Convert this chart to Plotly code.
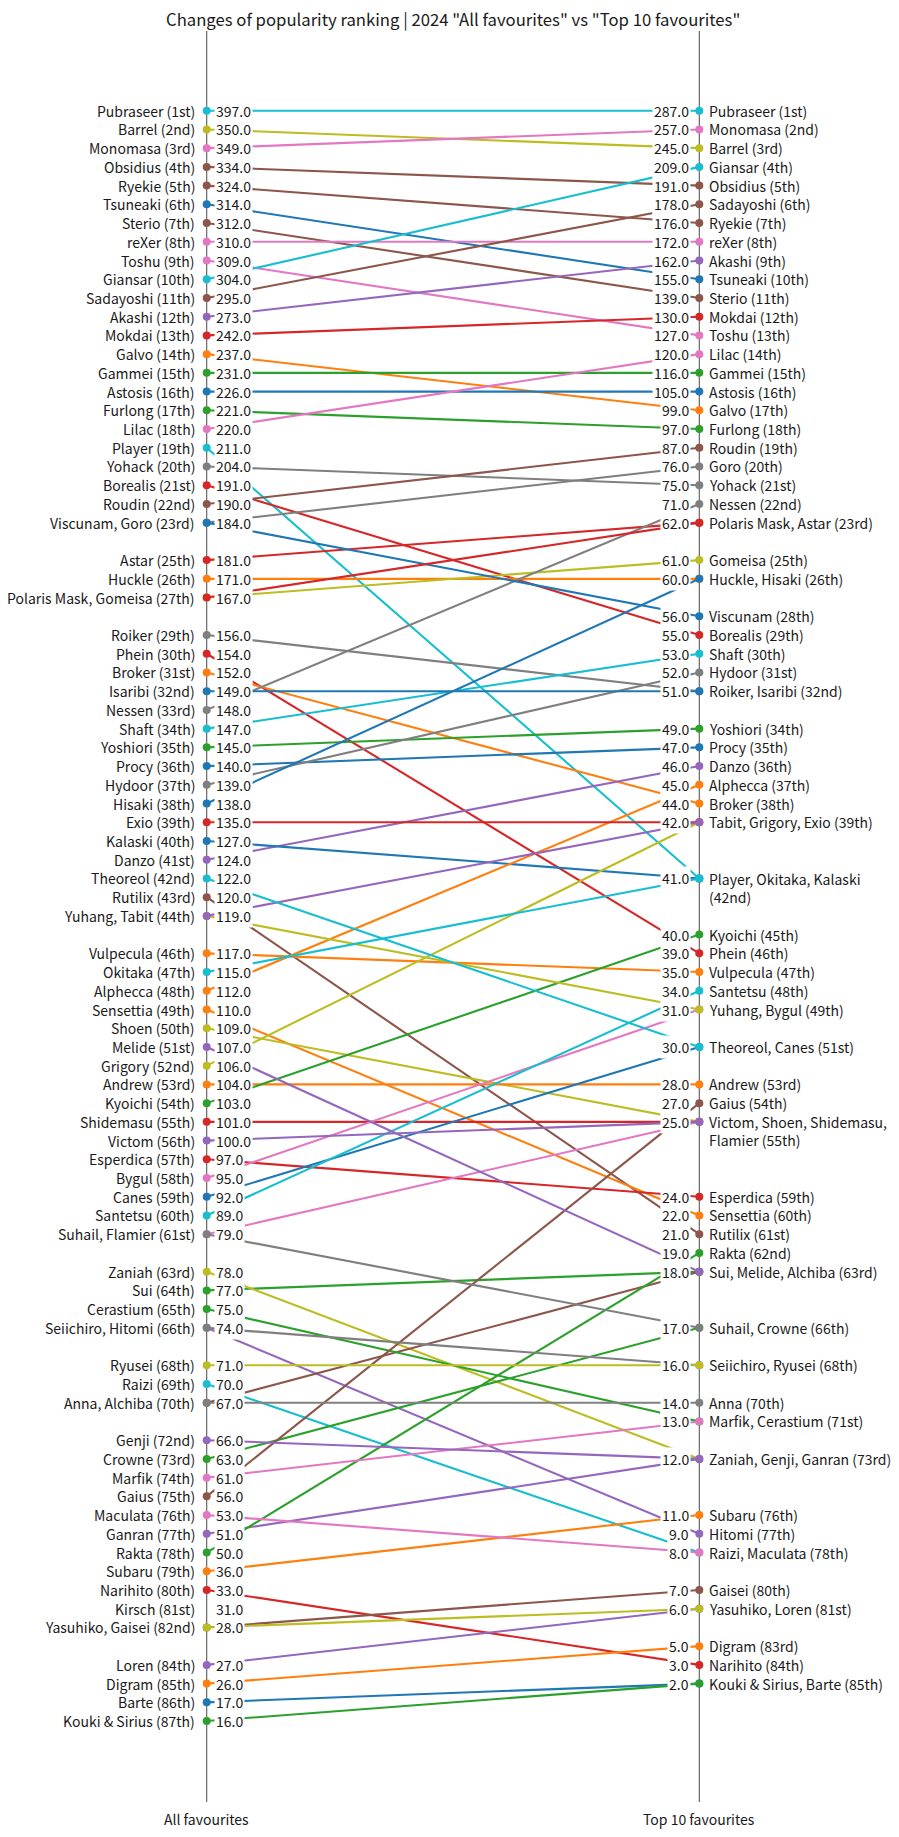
import textwrap
import plotly.graph_objects as go

# ---------------- data ----------------
names = [
    "Pubraseer", "Barrel", "Monomasa", "Obsidius", "Ryekie", "Tsuneaki", "Sterio", "reXer",
    "Toshu", "Giansar", "Sadayoshi", "Akashi", "Mokdai", "Galvo", "Gammei", "Astosis",
    "Furlong", "Lilac", "Player", "Yohack", "Borealis", "Roudin", "Viscunam", "Goro",
    "Huckle", "Polaris Mask", "Astar", "Gomeisa", "Roiker", "Phein", "Broker", "Isaribi",
    "Nessen", "Shaft", "Yoshiori", "Procy", "Hydoor", "Hisaki", "Danzo", "Theoreol",
    "Rutilix", "Yuhang", "Tabit", "Vulpecula", "Okitaka", "Kalaski", "Alphecca", "Sensettia",
    "Victom", "Shoen", "Sui", "Melide", "Grigory", "Exio", "Andrew", "Kyoichi",
    "Shidemasu", "Esperdica", "Bygul", "Canes", "Santetsu", "Suhail", "Flamier", "Zaniah",
    "Seiichiro", "Hitomi", "Ryusei", "Raizi", "Anna", "Alchiba", "Genji", "Crowne",
    "Marfik", "Cerastium", "Gaius", "Maculata", "Ganran", "Rakta", "Subaru", "Narihito",
    "Kirsch", "Yasuhiko", "Gaisei", "Loren", "Digram", "Kouki & Sirius", "Barte",
]

all_favourites = [
    397, 350, 349, 334, 324, 314, 312, 310,
    309, 304, 295, 273, 242, 237, 231, 226,
    221, 220, 211, 204, 191, 190, 184, 184,
    171, 167, 181, 167, 156, 154, 152, 149,
    148, 147, 145, 140, 139, 138, 124, 122,
    120, 119, 119, 117, 115, 127, 112, 110,
    100, 109, 77, 107, 106, 135, 104, 103,
    101, 97, 95, 92, 89, 79, 79, 78,
    74, 74, 71, 70, 67, 67, 66, 63,
    61, 75, 56, 53, 51, 50, 36, 33,
    31, 28, 28, 27, 26, 16, 17,
]

top10_favourites = [
    287, 245, 257, 191, 176, 155, 139, 172,
    127, 209, 178, 162, 130, 99, 116, 105,
    97, 120, 41, 75, 55, 87, 56, 76,
    60, 62, 62, 61, 51, 39, 44, 51,
    71, 53, 49, 47, 52, 60, 46, 30,
    21, 31, 42, 35, 41, 41, 45, 22,
    25, 25, 18, 18, 42, 42, 28, 40,
    25, 24, 31, 30, 34, 17, 25, 12,
    16, 9, 16, 8, 14, 18, 12, 17,
    13, 13, 27, 8, 12, 19, 11, 3,
    None, 6, 7, 6, 5, 2, 2,
]

colour_keys = [
    "cyan", "olive", "pink", "brown", "brown", "blue", "brown", "pink",
    "pink", "cyan", "brown", "purple", "red", "orange", "green", "blue",
    "green", "pink", "cyan", "gray", "red", "brown", "blue", "gray",
    "orange", "red", "red", "olive", "gray", "red", "orange", "blue",
    "gray", "cyan", "green", "blue", "gray", "blue", "purple", "cyan",
    "brown", "olive", "purple", "orange", "cyan", "blue", "orange", "orange",
    "purple", "olive", "green", "purple", "olive", "red", "orange", "green",
    "red", "red", "pink", "blue", "cyan", "gray", "pink", "olive",
    "gray", "purple", "olive", "cyan", "gray", "brown", "purple", "green",
    "pink", "green", "brown", "pink", "purple", "green", "orange", "red",
    None, "olive", "brown", "purple", "orange", "green", "blue",
]

# markers drawn last (on top where markers coincide)
draw_last = ["Viscunam", "Polaris Mask", "Yuhang", "Tabit", "Suhail", "Seiichiro", "Anna",
             "Yasuhiko", "Hisaki", "Isaribi", "Okitaka", "Theoreol", "Victom", "Melide",
             "Ryusei", "Marfik", "Genji", "Maculata", "Kouki & Sirius"]

title_text = 'Changes of popularity ranking | 2024 "All favourites" vs "Top 10 favourites"'
left_title = "All favourites"
right_title = "Top 10 favourites"

TAB10 = {
    "blue": "#1f77b4", "orange": "#ff7f0e", "green": "#2ca02c", "red": "#d62728",
    "purple": "#9467bd", "brown": "#8c564b", "pink": "#e377c2", "gray": "#7f7f7f",
    "olive": "#bcbd22", "cyan": "#17becf",
}

# ---------------- helpers ----------------
def ordinal(n):
    if 10 <= n % 100 <= 20:
        suf = "th"
    else:
        suf = {1: "st", 2: "nd", 3: "rd"}.get(n % 10, "th")
    return f"{n}{suf}"


def ranks_of(vals):
    present = [v for v in vals if v is not None]
    return [None if v is None else 1 + sum(1 for w in present if w > v) for v in vals]


left_rank = ranks_of(all_favourites)
right_rank = ranks_of(top10_favourites)


def groups(ranks, vals):
    g = {}
    for n, r, v in zip(names, ranks, vals):
        if r is None:
            continue
        g.setdefault(r, {"names": [], "value": v})
        g[r]["names"].append(n)
    return g


left_groups = groups(left_rank, all_favourites)
right_groups = groups(right_rank, top10_favourites)

# ---------------- geometry (pixels) ----------------
W, H = 899, 1837
X_LEFT_PX, X_RIGHT_PX = 206.7, 699.3
Y_RANK1_PX, DY_PX = 110.7, 18.725
AXIS_TOP_PX, AXIS_BOTTOM_PX = 31, 1802

span = X_RIGHT_PX - X_LEFT_PX
x_range = [-X_LEFT_PX / span, (W - X_LEFT_PX) / span]


def rank_at_px(py):
    return 1 + (py - Y_RANK1_PX) / DY_PX


y_range = [rank_at_px(H), rank_at_px(0)]

FONT = "Noto Sans CJK JP, Noto Sans, sans-serif"
TXT = "#1a1a1a"
FS = 14
LINE_H = 18.2

fig = go.Figure()

order = [i for i, n in enumerate(names) if n not in draw_last]
order += [names.index(n) for n in draw_last]
for i in order:
    if top10_favourites[i] is None:
        continue
    c = TAB10[colour_keys[i]]
    fig.add_trace(go.Scatter(
        x=[0, 1], y=[left_rank[i], right_rank[i]],
        mode="lines+markers",
        line=dict(color=c, width=2.1),
        marker=dict(color=c, size=8),
        cliponaxis=False, hoverinfo="skip", showlegend=False,
    ))

annotations = []
for side, grp in (("left", left_groups), ("right", right_groups)):
    x = 0 if side == "left" else 1
    for r, g in grp.items():
        label = ", ".join(g["names"]) + f" ({ordinal(r)})"
        lines = textwrap.wrap(label, 30)
        nl = len(lines)
        annotations.append(dict(
            x=x, y=r, xref="x", yref="y", text="<br>".join(lines), showarrow=False,
            xanchor="right" if side == "left" else "left",
            xshift=-9.7 if side == "left" else 7.7,
            yanchor="middle", yshift=-(nl - 1) * LINE_H / 2,
            align="right" if side == "left" else "left",
            font=dict(family=FONT, size=FS, color=TXT),
        ))
        annotations.append(dict(
            x=x, y=r, xref="x", yref="y", text=f"{g['value']:.1f}", showarrow=False,
            xanchor="left" if side == "left" else "right",
            xshift=7.3 if side == "left" else -8.3,
            yanchor="middle", bgcolor="white", borderpad=1, borderwidth=1,
            bordercolor="rgba(0,0,0,0)",
            font=dict(family=FONT, size=FS, color=TXT),
        ))

annotations.append(dict(
    x=0.5, y=1 - 18.5 / H, xref="x", yref="paper", text=title_text, showarrow=False,
    xanchor="center", yanchor="middle", font=dict(family=FONT, size=16.7, color=TXT),
))
for x, t in ((0, left_title), (1, right_title)):
    annotations.append(dict(
        x=x, y=1 - 1819 / H, xref="x", yref="paper", text=t, showarrow=False,
        xanchor="center", yanchor="middle", font=dict(family=FONT, size=FS, color=TXT),
    ))

shapes = []
for x in (0, 1):
    shapes.append(dict(
        type="line", xref="x", yref="y", x0=x, x1=x,
        y0=rank_at_px(AXIS_TOP_PX), y1=rank_at_px(AXIS_BOTTOM_PX),
        line=dict(color="#595959", width=1.1), layer="below",
    ))

fig.update_layout(
    width=W, height=H, margin=dict(l=0, r=0, t=0, b=0),
    paper_bgcolor="white", plot_bgcolor="white",
    xaxis=dict(range=x_range, visible=False, fixedrange=True),
    yaxis=dict(range=y_range, visible=False, fixedrange=True),
    annotations=annotations, shapes=shapes,
    font=dict(family=FONT, color=TXT),
)

fig.write_html("out.html", config={"displayModeBar": False})
